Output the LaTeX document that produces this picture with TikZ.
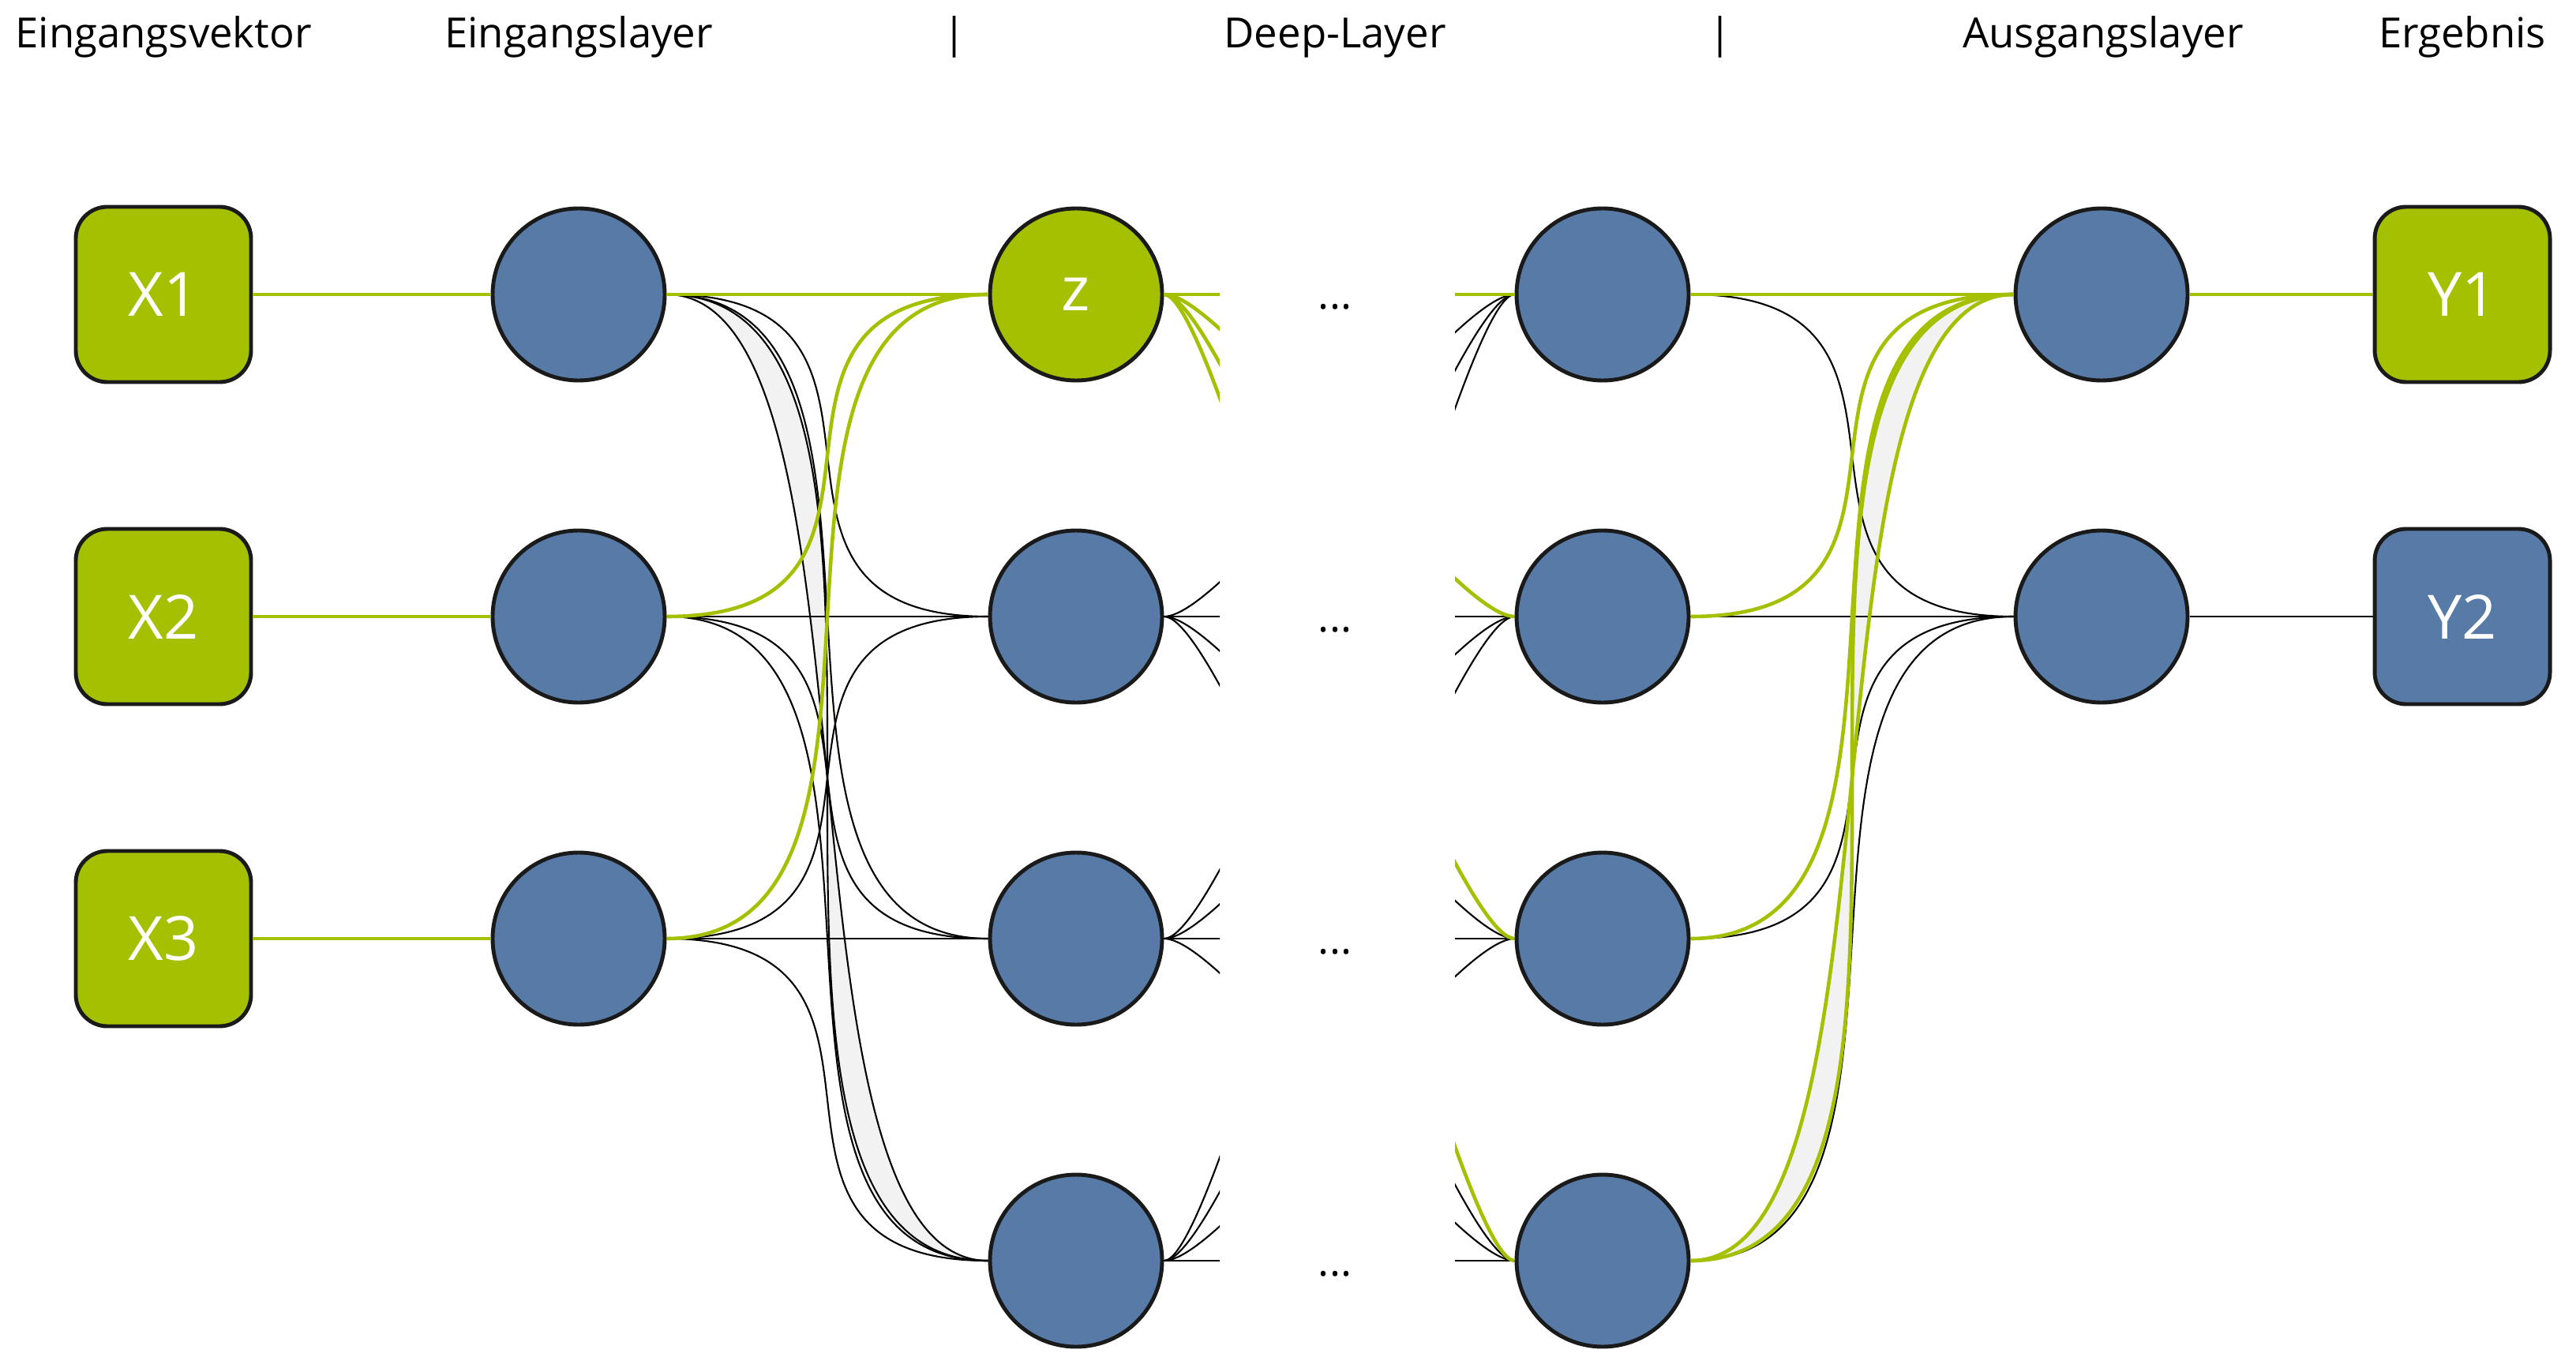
\documentclass[tikz,border=0pt]{standalone}
\usepackage{fontspec}
\setmainfont{Open Sans}
\usetikzlibrary{calc, positioning}
\definecolor{nngreen}{HTML}{A5C000}
\definecolor{nnblue}{HTML}{577BA6}
\definecolor{nnline}{HTML}{1A1A1A}
\definecolor{nnlens}{HTML}{F2F2F2}
\tikzset{
  neuron/.style={circle, draw=nnline, line width=1.4pt, fill=nnblue, minimum size=2.18cm, inner sep=0pt, text=white, font=\fontsize{22}{26}\selectfont},
  vecbox/.style={rectangle, rounded corners=0.4cm, draw=nnline, line width=1.4pt, fill=nngreen, minimum size=2.22cm, inner sep=0pt, text=white, font=\fontsize{22}{26}\selectfont},
  head/.style={anchor=base, font=\fontsize{15}{18}\selectfont},
  link/.style={black, line width=0.6pt},
  hot/.style={nngreen, line width=1.3pt}
}
\begin{document}
\begin{tikzpicture}
    \useasboundingbox (0,0) rectangle (32.63,-17.18);

    % Headers
    \node[head] (hvec) at (2.07,-0.61) {Eingangsvektor};
    \node[head] (hin) at (7.33,-0.61) {Eingangslayer};
    \node[head] (bar1) at (12.09,-0.61) {|};
    \node[head] (hdeep) at (16.91,-0.61) {Deep-Layer};
    \node[head] (bar2) at (21.79,-0.61) {|};
    \node[head] (hout) at (26.64,-0.61) {Ausgangslayer};
    \node[head] (hres) at (31.19,-0.61) {Ergebnis};

    % Input vector and input layer
    \foreach \r/\y in {1/-3.73, 2/-7.81, 3/-11.89} {
      \node[vecbox] (x\r) at (2.07,\y) {X\r};
      \node[neuron] (i\r) at (7.33,\y) {};
    }

    % Deep layer (two columns, middle left open)
    \node[neuron, fill=nngreen] (a1) at (13.63,-3.73) {z};
    \foreach \r/\y in {2/-7.81, 3/-11.89, 4/-15.97}
      \node[neuron] (a\r) at (13.63,\y) {};
    \foreach \r/\y in {1/-3.73, 2/-7.81, 3/-11.89, 4/-15.97} {
      \node[neuron] (b\r) at (20.30,\y) {};
      \node[head] (dots\r) at (16.91,\y-0.19) {...};
    }

    % Output layer and result
    \node[neuron] (o1) at (26.62,-3.73) {};
    \node[neuron] (o2) at (26.62,-7.81) {};
    \node[vecbox] (y1) at (31.19,-3.73) {Y1};
    \node[vecbox, fill=nnblue] (y2) at (31.19,-7.81) {Y2};

    % Shaded double curves
    \fill[nnlens] (i1.east) .. controls +(4.08,0) and +(-4.08,0) .. (a4.west)
      .. controls +(-2.86,0) and +(2.86,0) .. (i1.east);
    \fill[nnlens] (b4.east) .. controls +(4.1,0) and +(-4.1,0) .. (o1.west)
      .. controls +(-2.87,0) and +(2.87,0) .. (b4.east);

    % Input layer -> deep layer
    \def\kk{3.6}
    \foreach \r/\s in {1/2, 1/3, 2/2, 2/3, 2/4, 3/2, 3/3, 3/4}
      \draw[link] (i\r.east) .. controls +(\kk,0) and +(-\kk,0) .. (a\s.west);
    \draw[link] (i1.east) .. controls +(4.08,0) and +(-4.08,0) .. (a4.west);
    \draw[link] (i1.east) .. controls +(2.86,0) and +(-2.86,0) .. (a4.west);
    \foreach \r in {1,2,3} {
      \draw[hot] (x\r.east) -- (i\r.west);
      \draw[hot] (i\r.east) .. controls +(\kk,0) and +(-\kk,0) .. (a1.west);
    }

    % Deep layer stubs (middle cut out)
    \begin{scope}
      \clip (14.6,0) rectangle (15.45,-17.18) (18.43,0) rectangle (19.4,-17.18);
      \foreach \r in {2,3,4}
        \foreach \s in {1,...,4}
          \draw[link] (a\r.east) .. controls +(0.8,0) and +(-0.8,0) .. (b\s.west);
      \foreach \s in {1,...,4}
        \draw[hot] (a1.east) .. controls +(0.8,0) and +(-0.8,0) .. (b\s.west);
    \end{scope}

    % Deep layer -> output layer
    \foreach \r in {1,...,4}
      \draw[link] (b\r.east) .. controls +(\kk,0) and +(-\kk,0) .. (o2.west);
    \foreach \r in {1,2,3}
      \draw[hot] (b\r.east) .. controls +(\kk,0) and +(-\kk,0) .. (o1.west);
    \draw[hot] (b4.east) .. controls +(4.1,0) and +(-4.1,0) .. (o1.west);
    \draw[hot] (b4.east) .. controls +(2.87,0) and +(-2.87,0) .. (o1.west);
    \draw[hot] (o1.east) -- (y1.west);
    \draw[link] (o2.east) -- (y2.west);
\end{tikzpicture}
\end{document}
